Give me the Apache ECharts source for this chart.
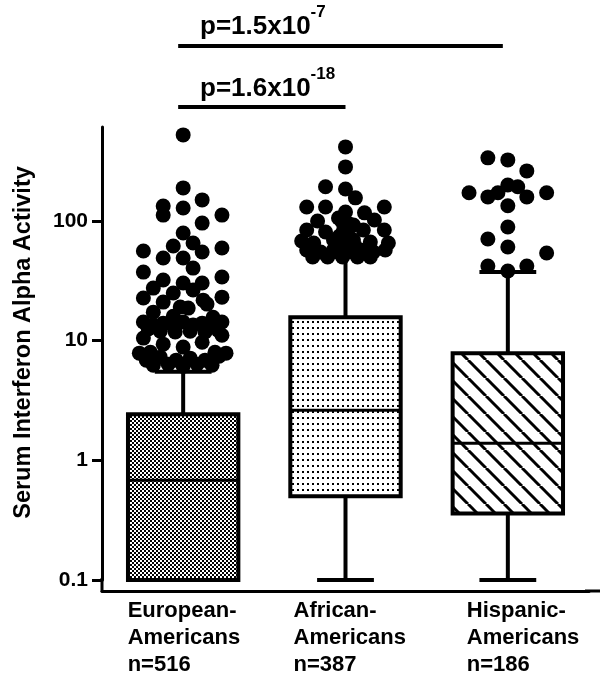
<!DOCTYPE html>
<html><head><meta charset="utf-8">
<script src="https://cdn.jsdelivr.net/npm/echarts@6/dist/echarts.min.js"></script>
<style>html,body{margin:0;padding:0;background:#fff}#c{width:605px;height:676px}</style>
</head><body><div id="c"></div>
<script>
// ---------- data ----------
const categories = ['European-Americans', 'African-Americans', 'Hispanic-Americans'];
const labelLines = [['European-', 'Americans', 'n=516'], ['African-', 'Americans', 'n=387'], ['Hispanic-', 'Americans', 'n=186']];
const whiskerLow = [0.1, 0.1, 0.1];
const q1 = [0.1, 0.50, 0.36];
const median = [0.68, 2.62, 1.39];
const q3 = [2.43, 15.7, 7.86];
const whiskerHigh = [5.5, 50, 37.4];
const yTicks = [0.1, 1, 10, 100];
// outliers: [horizontal jitter in category units, value]
const euroOutliers = [
  [0, 524], [0, 189], [-0.123, 133.5], [-0.123, 112], [0.117, 150], [0, 128.5], [0.239, 112], [0.117, 96], [0, 79.4],
  [-0.245, 56.1], [-0.061, 61.8], [0.061, 65.5], [0.117, 55.0], [0.239, 59.4], [-0.123, 49.0], [0, 49.0], [0.061, 40.4],
  [-0.245, 37.4], [-0.123, 32.1], [-0.184, 27.5], [0, 30.3], [0.117, 30.3], [0.239, 34.0], [0.061, 26.5], [-0.061, 25.0],
  [-0.245, 22.7], [-0.123, 21.0], [0.123, 21.8], [0.239, 23.1], [-0.018, 19.1], [0.031, 18.7], [0.147, 20.2], [-0.184, 17.3],
  [-0.061, 16.0], [0.184, 15.7],
  [-0.245, 14.3], [-0.184, 13.5], [-0.123, 14.0], [-0.061, 13.2], [0, 14.3], [0.061, 13.5], [0.117, 14.0], [0.178, 13.2], [0.239, 14.3],
  [-0.215, 12.5], [-0.141, 12.0], [-0.049, 11.8], [0.043, 12.0], [0.135, 11.8], [0.215, 12.2],
  [-0.245, 10.5], [-0.123, 9.35], [0, 8.83], [0.117, 9.71], [0.239, 11.1],
  [-0.27, 7.86], [-0.227, 6.87], [-0.184, 6.24], [-0.141, 7.28], [-0.092, 6.36], [-0.043, 6.87], [0, 6.12], [0.043, 7.14],
  [0.086, 6.36], [0.135, 6.87], [0.178, 6.24], [0.221, 7.42], [0.264, 7.86], [-0.202, 8.01], [0.196, 8.01]
];
const afrOutliers = [
  [0, 416], [0, 283], [-0.123, 193], [0, 185], [0.061, 156],
  [-0.239, 131], [-0.123, 131], [0.239, 131], [0, 119], [0.117, 117],
  [-0.172, 100], [-0.043, 106], [0.178, 102], [0.02, 95], [-0.02, 98],
  [-0.239, 84.1], [0.049, 92.6], [0.239, 84.1], [-0.123, 80.9], [-0.012, 84.1], [0.110, 84.1],
  [-0.037, 75], [0.03, 72], [-0.27, 68.0], [0.264, 65.5], [-0.196, 65.5], [-0.074, 69.3], [0.049, 69.3], [0.153, 66.7],
  [0.0, 62], [-0.05, 60], [0.06, 61],
  [-0.239, 57.2], [-0.153, 55.0], [-0.074, 57.2], [0.012, 55.0], [0.092, 57.2], [0.172, 55.0], [0.245, 57.2],
  [-0.202, 50.0], [-0.110, 50.0], [-0.018, 50.0], [0.074, 50.0], [0.153, 50.0]
];
const hispOutliers = [
  [-0.123, 337], [0, 324], [0.117, 262],
  [-0.239, 172], [-0.123, 159], [-0.061, 172], [0, 200], [0.061, 193], [0.117, 159], [0.239, 172],
  [0, 134], [0, 89.1], [-0.123, 70.7], [0, 60.6], [0.239, 54.0], [-0.123, 42.0], [0, 38.2], [0.117, 42.0]
];
const outlierGroups = [euroOutliers, afrOutliers, hispOutliers];
const pLabels = [{base: 'p=1.5x10', exp: '-7'}, {base: 'p=1.6x10', exp: '-18'}];

// ---------- patterns ----------
function makeTile(w, h, draw) {
  const c = document.createElement('canvas'); c.width = w; c.height = h;
  const ctx = c.getContext('2d'); draw(ctx, w, h); return c;
}
const patChecker = makeTile(4, 4, (ctx) => {
  ctx.fillStyle = '#000'; ctx.fillRect(0, 0, 4, 4);
  ctx.fillStyle = '#fff'; ctx.fillRect(0, 0, 2, 2); ctx.fillRect(2, 2, 2, 2);
});
const patDots = makeTile(5, 6, (ctx) => {
  ctx.fillStyle = '#fff'; ctx.fillRect(0, 0, 5, 6);
  ctx.fillStyle = '#000'; ctx.fillRect(2, 3, 2, 2);
});
const patStripes = makeTile(18, 18, (ctx) => {
  ctx.fillStyle = '#fff'; ctx.fillRect(0, 0, 18, 18);
  ctx.strokeStyle = '#000'; ctx.lineWidth = 3;
  [-18, 0, 18].forEach(o => { ctx.beginPath(); ctx.moveTo(o, 0); ctx.lineTo(o + 18, 18); ctx.stroke(); });
});
const patterns = [patChecker, patDots, patStripes];

// ---------- chart ----------
const FONT = '"Liberation Sans", Arial, sans-serif';
const GRID = {left: 102, right: 16, top: 127, bottom: 96};
const chart = echarts.init(document.getElementById('c'), null, {renderer: 'canvas'});

const boxData = categories.map((c, i) => [i, whiskerLow[i], q1[i], median[i], q3[i], whiskerHigh[i]]);
const scatterData = [];
outlierGroups.forEach((g, i) => g.forEach(p => scatterData.push([i + p[0], p[1]])));

const labelPad = [7, 14, 36];
const rich = {};
labelPad.forEach((p, i) => {
  rich['a' + i] = {width: 118, padding: [0, 0, 0, p], align: 'left', fontSize: 22, fontWeight: 'bold', lineHeight: 27, fontFamily: FONT, color: '#000'};
});

chart.setOption({
  animation: false,
  backgroundColor: '#fff',
  grid: GRID,
  xAxis: [{
    type: 'category', data: categories, offset: 11,
    axisLine: {onZero: false, lineStyle: {color: '#000', width: 3}},
    axisTick: {show: false},
    axisLabel: {
      margin: 6, align: 'center', interval: 0,
      formatter: (v, i) => labelLines[i].map(l => '{a' + i + '|' + l + '}').join('\n'),
      rich: rich
    },
    splitLine: {show: false}
  }, {
    type: 'value', min: -0.5, max: 2.5, show: false
  }],
  yAxis: {
    type: 'log', logBase: 10, min: yTicks[0], max: 610,
    name: 'Serum Interferon Alpha Activity', nameLocation: 'middle', nameGap: 66,
    nameTextStyle: {fontSize: 23.5, fontWeight: 'bold', fontFamily: FONT, color: '#000', padding: [0, 0, 0, 22]},
    axisLine: {show: true, onZero: false, lineStyle: {color: '#000', width: 3}},
    axisTick: {show: true, length: 10, lineStyle: {color: '#000', width: 3}},
    axisLabel: {color: '#000', fontSize: 21, fontWeight: 'bold', fontFamily: FONT, margin: 14, showMaxLabel: false,
      formatter: v => yTicks.some(t => Math.abs(t - v) / t < 1e-6) ? String(v) : ''},
    splitLine: {show: false}
  },
  series: [{
    type: 'custom', xAxisIndex: 0, yAxisIndex: 0, z: 2, clip: false,
    data: boxData,
    encode: {x: 0, y: [1, 2, 3, 4, 5]},
    renderItem: function (params, api) {
      const i = api.value(0);
      const lo = api.coord([i, api.value(1)]);
      const b1 = api.coord([i, api.value(2)]);
      const md = api.coord([i, api.value(3)]);
      const b3 = api.coord([i, api.value(4)]);
      const hi = api.coord([i, api.value(5)]);
      const band = api.size([1, 0])[0];
      const bw = band * 0.68, cw = band * 0.35;
      const x = lo[0];
      const ls = {stroke: '#000', lineWidth: 4, fill: null};
      return {type: 'group', children: [
        {type: 'line', shape: {x1: x, y1: b3[1], x2: x, y2: hi[1]}, style: ls},
        {type: 'line', shape: {x1: x, y1: b1[1], x2: x, y2: lo[1]}, style: ls},
        {type: 'line', shape: {x1: x - cw / 2, y1: hi[1], x2: x + cw / 2, y2: hi[1]}, style: ls},
        {type: 'line', shape: {x1: x - cw / 2, y1: lo[1], x2: x + cw / 2, y2: lo[1]}, style: ls},
        {type: 'rect', shape: {x: x - bw / 2, y: b3[1], width: bw, height: b1[1] - b3[1]},
          style: {fill: {image: patterns[i], repeat: 'repeat'}, stroke: '#000', lineWidth: 4}},
        {type: 'line', shape: {x1: x - bw / 2, y1: md[1], x2: x + bw / 2, y2: md[1]}, style: {stroke: '#000', lineWidth: 3}}
      ]};
    }
  }, {
    type: 'scatter', xAxisIndex: 1, yAxisIndex: 0, z: 3,
    symbol: 'circle', symbolSize: 15,
    itemStyle: {color: '#000', opacity: 1},
    data: scatterData
  }]
});

// annotation graphics (significance brackets + axis corner extensions)
const c0 = chart.convertToPixel({xAxisIndex: 0}, categories[0]);
const c1 = chart.convertToPixel({xAxisIndex: 0}, categories[1]);
const c2 = chart.convertToPixel({xAxisIndex: 0}, categories[2]);
const prich = {
  m: {fontSize: 26, fontWeight: 'bold', fontFamily: FONT, fill: '#000', lineHeight: 36, verticalAlign: 'bottom'},
  s: {fontSize: 17, fontWeight: 'bold', fontFamily: FONT, fill: '#000', lineHeight: 17, verticalAlign: 'top'}
};
const yBottom = 676 - GRID.bottom;
chart.setOption({graphic: [
  {type: 'line', shape: {x1: c0 - 5, y1: 46, x2: c2 - 5, y2: 46}, style: {stroke: '#000', lineWidth: 4}},
  {type: 'line', shape: {x1: c0 - 5, y1: 107, x2: c1, y2: 107}, style: {stroke: '#000', lineWidth: 4}},
  {type: 'text', x: 200, y: 4, style: {text: '{m|' + pLabels[0].base + '}{s|' + pLabels[0].exp + '}', rich: prich}},
  {type: 'text', x: 200, y: 66, style: {text: '{m|' + pLabels[1].base + '}{s|' + pLabels[1].exp + '}', rich: prich}},
  {type: 'line', shape: {x1: GRID.left, y1: yBottom - 2, x2: GRID.left, y2: yBottom + 12}, style: {stroke: '#000', lineWidth: 3}},
  {type: 'line', shape: {x1: 605 - GRID.right - 4, y1: yBottom + 11, x2: 600, y2: yBottom + 11}, style: {stroke: '#000', lineWidth: 3}}
]});
</script>
</body></html>
